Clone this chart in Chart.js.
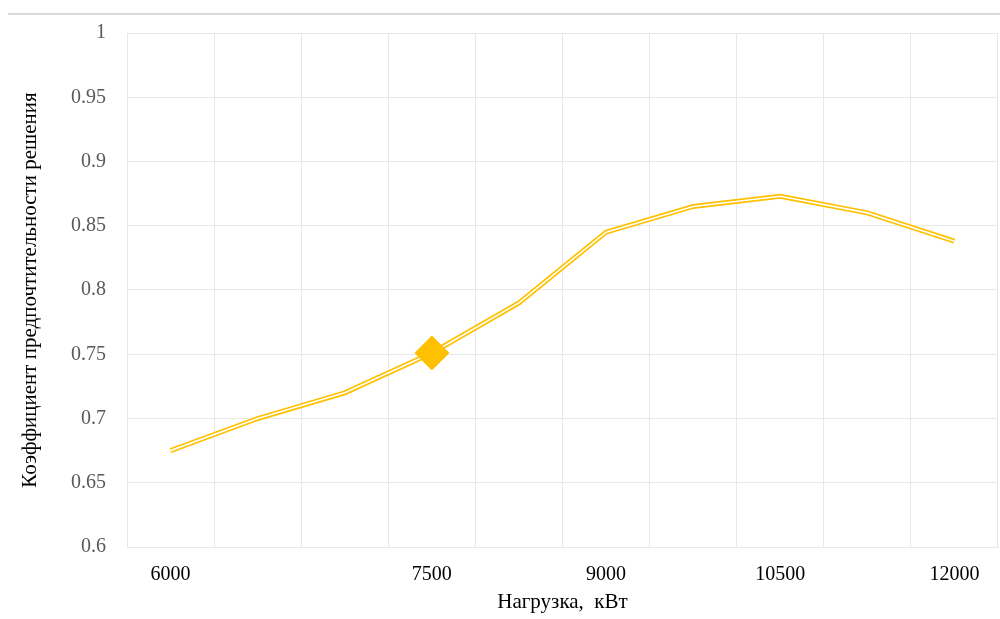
<!DOCTYPE html>
<html>
<head>
<meta charset="utf-8">
<script src="https://cdn.jsdelivr.net/npm/chart.js@4.4.1/dist/chart.umd.min.js"></script>
<style>
  html, body { margin: 0; padding: 0; background: #ffffff; }
  #wrap { position: relative; width: 1000px; height: 619px; }
  #topRule { position: absolute; left: 8px; right: 0; top: 13px; height: 0; border-top: 2px solid #d9d9d9; }
  canvas { position: absolute; left: 0; top: 0; }
</style>
</head>
<body>
<div id="wrap">
  <div id="topRule"></div>
  <canvas id="c" width="1000" height="619"></canvas>
</div>
<script>
// Load levels (kW) along the category axis and the preference coefficient at each
const loads = [6000, 6500, 7000, 7500, 8250, 9000, 9750, 10500, 11250, 12000];
const tickLabels = ['6000', '', '', '7500', '', '9000', '', '10500', '', '12000'];
const coefficient = [0.675, 0.700, 0.720, 0.751, 0.790, 0.845, 0.865, 0.873, 0.860, 0.838];
const markedLoad = 7500;

const gold = '#FFC000';
const gridColor = '#e8e8e8';
const serif = "'Liberation Serif', 'Times New Roman', serif";
const markedIndex = loads.indexOf(markedLoad);

new Chart(document.getElementById('c'), {
  type: 'line',
  data: {
    labels: tickLabels,
    datasets: [
      {
        // highlighted point
        data: coefficient,
        showLine: false,
        pointStyle: 'rectRot',
        pointRadius: ctx => ctx.dataIndex === markedIndex ? 17 : 0,
        pointBackgroundColor: gold,
        pointBorderColor: gold,
        pointBorderWidth: 1,
        order: 0
      },
      {
        // inner gap of the double stroke
        data: coefficient,
        borderColor: '#ffffff',
        borderWidth: 1.6,
        pointRadius: 0,
        tension: 0,
        order: 1
      },
      {
        // outer gold stroke
        data: coefficient,
        borderColor: gold,
        borderWidth: 5,
        pointRadius: 0,
        tension: 0,
        order: 2
      }
    ]
  },
  options: {
    responsive: false,
    animation: false,
    layout: { padding: { top: 31, right: 2, bottom: 0, left: 0 } },
    plugins: { legend: { display: false }, tooltip: { enabled: false } },
    scales: {
      x: {
        type: 'category',
        offset: true,
        grid: { offset: true, color: gridColor, drawTicks: false },
        border: { color: gridColor },
        ticks: {
          autoSkip: false,
          maxRotation: 0,
          padding: 16,
          color: '#000000',
          font: { family: serif, size: 20 }
        },
        title: {
          display: true,
          text: 'Нагрузка,  кВт',
          color: '#000000',
          font: { family: serif, size: 21 },
          padding: { top: 6, bottom: 4 }
        },
        afterFit: s => { s.height = 72; }
      },
      y: {
        min: 0.6,
        max: 1,
        grid: { color: gridColor, drawTicks: false },
        border: { color: gridColor },
        ticks: {
          stepSize: 0.05,
          padding: 21,
          color: '#595959',
          font: { family: serif, size: 20 },
          callback: v => String(Math.round(v * 100) / 100)
        },
        title: {
          display: true,
          text: 'Коэффициент предпочтительности решения',
          color: '#000000',
          font: { family: serif, size: 21 },
          padding: { top: 18, bottom: 0 }
        },
        afterFit: s => { s.width = 127; }
      }
    }
  },
  plugins: [{
    // right and top frame of the plot area
    id: 'frame',
    beforeDatasetsDraw(chart) {
      const { ctx, chartArea: a } = chart;
      ctx.save();
      ctx.strokeStyle = gridColor;
      ctx.lineWidth = 1;
      ctx.strokeRect(a.left + 0.5, a.top + 0.5, a.right - a.left - 1, a.bottom - a.top);
      ctx.restore();
    }
  }]
});
</script>
</body>
</html>
